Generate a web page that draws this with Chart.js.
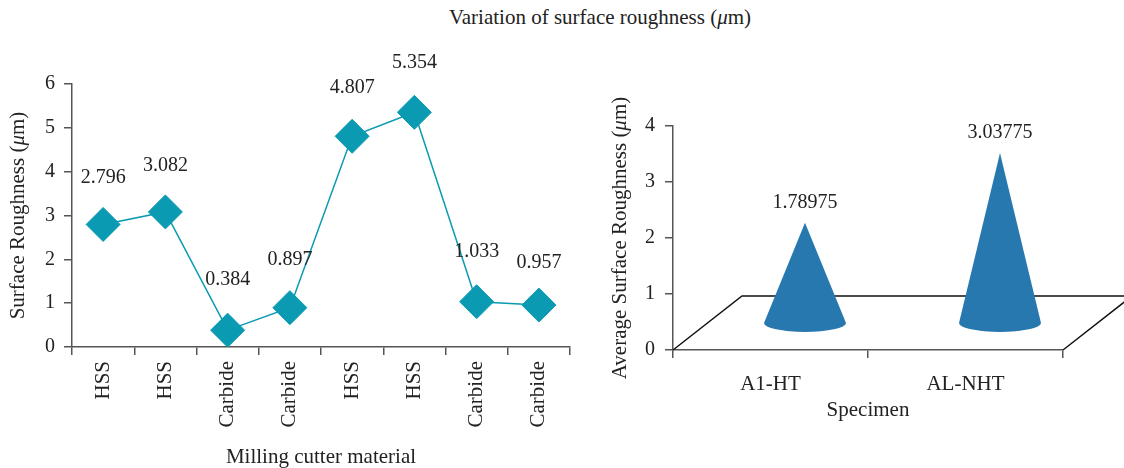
<!DOCTYPE html>
<html>
<head>
<meta charset="utf-8">
<script src="https://cdn.jsdelivr.net/npm/chart.js@4.4.0/dist/chart.umd.min.js"></script>
<style>
  html, body { margin: 0; padding: 0; background: #fff; }
  #wrap { position: relative; width: 1124px; height: 468px; overflow: hidden; }
  #title { position: absolute; left: 0; width: 1200px; top: 5px; text-align: center;
           font: 21px "Liberation Serif", serif; color: #222; }
  #left { position: absolute; left: 0; top: 0; }
  #right { position: absolute; left: 600px; top: 0; }
</style>
</head>
<body>
<div id="wrap">
  <div id="title">Variation of surface roughness (<i>μ</i>m)</div>
  <canvas id="left" width="600" height="468"></canvas>
  <canvas id="right" width="524" height="468"></canvas>
</div>
<script>
// Surface roughness per milling cutter
const cutterMaterials = ['HSS', 'HSS', 'Carbide', 'Carbide', 'HSS', 'HSS', 'Carbide', 'Carbide'];
const roughness = [2.796, 3.082, 0.384, 0.897, 4.807, 5.354, 1.033, 0.957];

// Average roughness per specimen
const specimens = ['A1-HT', 'AL-NHT'];
const avgRoughness = [1.78975, 3.03775];

const FONT = '"Liberation Serif", serif';
const TEXT = '#222';
const AXIS = '#555';
const TEAL = '#0a9ab2';
const CONE = '#2878b0';

// vertical gap between a point and its value label (px)
const labelLift = [47, 46, 50, 48, 49, 50, 50, 42];

// Draws text made of plain and italic runs, centred on (x, y), optionally rotated.
function drawRich(ctx, runs, x, y, size, angle) {
  ctx.save();
  ctx.translate(x, y);
  if (angle) ctx.rotate(angle);
  ctx.fillStyle = TEXT;
  ctx.textBaseline = 'middle';
  ctx.textAlign = 'left';
  let total = 0;
  runs.forEach(r => { ctx.font = (r.italic ? 'italic ' : '') + size + 'px ' + FONT; total += ctx.measureText(r.t).width; });
  let cx = -total / 2;
  runs.forEach(r => {
    ctx.font = (r.italic ? 'italic ' : '') + size + 'px ' + FONT;
    ctx.fillText(r.t, cx, 0);
    cx += ctx.measureText(r.t).width;
  });
  ctx.restore();
}

const muUnit = [{ t: ' (' }, { t: 'μ', italic: true }, { t: 'm)' }];

const leftDecor = {
  id: 'leftDecor',
  afterDatasetsDraw(chart) {
    const ctx = chart.ctx;
    const meta = chart.getDatasetMeta(0);
    ctx.save();
    ctx.font = '20px ' + FONT;
    ctx.fillStyle = TEXT;
    ctx.textAlign = 'center';
    ctx.textBaseline = 'middle';
    meta.data.forEach((pt, i) => {
      ctx.fillText(roughness[i].toFixed(3), pt.x, pt.y - labelLift[i]);
    });
    ctx.restore();
  },
  afterDraw(chart) {
    const a = chart.chartArea;
    const ctx = chart.ctx;
    drawRich(ctx, [{ t: 'Surface Roughness' }].concat(muUnit), 18, (a.top + a.bottom) / 2, 21, -Math.PI / 2);
    drawRich(ctx, [{ t: 'Milling cutter material' }], (a.left + a.right) / 2, 457, 21, 0);
  }
};

new Chart(document.getElementById('left'), {
  type: 'line',
  data: {
    labels: cutterMaterials,
    datasets: [{
      data: roughness,
      borderColor: TEAL,
      borderWidth: 1.5,
      backgroundColor: TEAL,
      pointStyle: 'rectRot',
      pointRadius: 17,
      pointHoverRadius: 17,
      pointBorderWidth: 1,
      pointBorderColor: TEAL,
      pointBackgroundColor: TEAL,
      tension: 0
    }]
  },
  options: {
    responsive: false,
    animation: false,
    devicePixelRatio: 1,
    layout: { padding: { top: 84, right: 30, left: 0, bottom: 0 } },
    plugins: { legend: { display: false }, tooltip: { enabled: false } },
    scales: {
      x: {
        type: 'category',
        offset: true,
        grid: { offset: true, drawOnChartArea: false, tickLength: 8, color: AXIS, lineWidth: 1.5 },
        border: { color: AXIS, width: 1.5 },
        ticks: { minRotation: 90, maxRotation: 90, autoSkip: false, color: TEXT, font: { family: FONT, size: 21 }, padding: 6 },
        afterFit(s) { s.height = 121; }
      },
      y: {
        min: 0, max: 6,
        grid: { drawOnChartArea: false, tickLength: 8, color: AXIS, lineWidth: 1.5 },
        border: { color: AXIS, width: 1.5 },
        ticks: { stepSize: 1, color: TEXT, font: { family: FONT, size: 20 }, padding: 9 },
        afterFit(s) { s.width = 72; }
      }
    }
  },
  plugins: [leftDecor]
});

// Depth offset of the 3D floor (px) and cone base size
const DEPTH_X = 69, DEPTH_Y = -54;
const CONE_RX = 41, CONE_RY = 9;

const rightDecor = {
  id: 'rightDecor',
  beforeDatasetsDraw(chart) {
    const a = chart.chartArea;
    const ctx = chart.ctx;
    ctx.save();
    ctx.strokeStyle = '#111';
    ctx.lineWidth = 1.5;
    ctx.beginPath();
    ctx.moveTo(a.left, a.bottom);
    ctx.lineTo(a.left + DEPTH_X, a.bottom + DEPTH_Y);
    ctx.lineTo(a.right + DEPTH_X, a.bottom + DEPTH_Y);
    ctx.lineTo(a.right, a.bottom);
    ctx.stroke();
    ctx.restore();
  },
  afterDatasetsDraw(chart) {
    const ctx = chart.ctx;
    const a = chart.chartArea;
    const ys = chart.scales.y;
    const meta = chart.getDatasetMeta(0);
    meta.data.forEach((bar, i) => {
      const cx = bar.x + DEPTH_X / 2;
      const baseY = a.bottom + DEPTH_Y / 2;
      const apexY = ys.getPixelForValue(avgRoughness[i]) + DEPTH_Y / 2;
      ctx.save();
      ctx.fillStyle = CONE;
      ctx.beginPath();
      ctx.moveTo(cx - CONE_RX, baseY);
      ctx.lineTo(cx, apexY);
      ctx.lineTo(cx + CONE_RX, baseY);
      ctx.ellipse(cx, baseY, CONE_RX, CONE_RY, 0, 0, Math.PI, false);
      ctx.closePath();
      ctx.fill();
      ctx.font = '20px ' + FONT;
      ctx.fillStyle = TEXT;
      ctx.textAlign = 'center';
      ctx.textBaseline = 'middle';
      ctx.fillText(String(avgRoughness[i]), cx, apexY - 20);
      ctx.restore();
    });
  },
  afterDraw(chart) {
    const a = chart.chartArea;
    const ctx = chart.ctx;
    drawRich(ctx, [{ t: 'Average Surface Roughness' }].concat(muUnit), 20, (a.top + a.bottom) / 2, 21, -Math.PI / 2);
    drawRich(ctx, [{ t: 'Specimen' }], (a.left + a.right) / 2, 410, 21, 0);
  }
};

new Chart(document.getElementById('right'), {
  type: 'bar',
  data: {
    labels: specimens,
    datasets: [{
      data: avgRoughness,
      backgroundColor: 'rgba(0,0,0,0)',
      borderWidth: 0
    }]
  },
  options: {
    responsive: false,
    animation: false,
    devicePixelRatio: 1,
    layout: { padding: { top: 126, right: 61, left: 0, bottom: 0 } },
    plugins: { legend: { display: false }, tooltip: { enabled: false } },
    scales: {
      x: {
        grid: { offset: true, drawOnChartArea: false, tickLength: 8, color: AXIS, lineWidth: 1.5 },
        border: { color: AXIS, width: 1.5 },
        ticks: { color: TEXT, font: { family: FONT, size: 21 }, padding: 14, maxRotation: 0 },
        afterFit(s) { s.height = 118; }
      },
      y: {
        min: 0, max: 4,
        grid: { drawOnChartArea: false, tickLength: 8, color: AXIS, lineWidth: 1.5 },
        border: { color: AXIS, width: 1.5 },
        ticks: { stepSize: 1, color: TEXT, font: { family: FONT, size: 20 }, padding: 10 },
        afterFit(s) { s.width = 73; }
      }
    }
  },
  plugins: [rightDecor]
});
</script>
</body>
</html>
